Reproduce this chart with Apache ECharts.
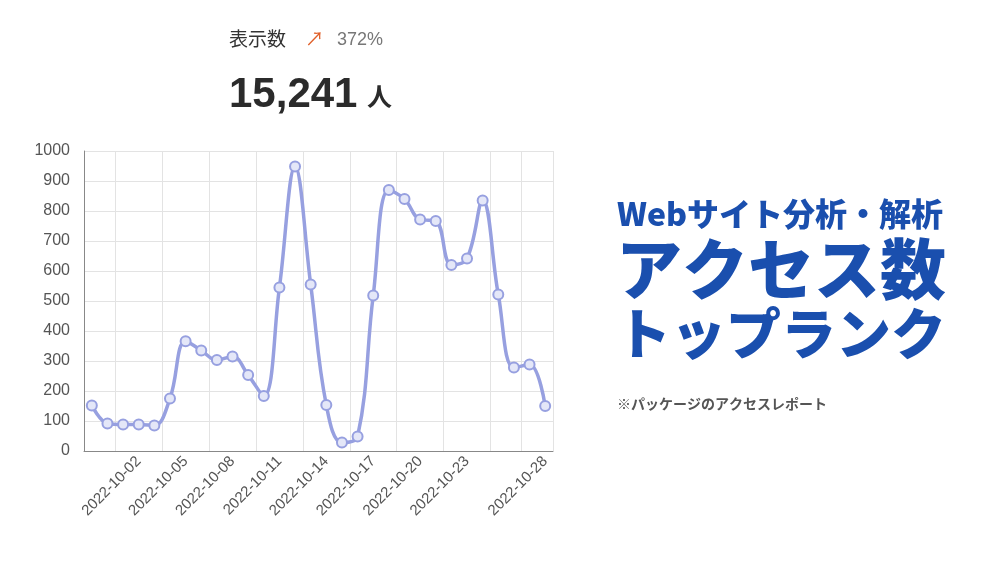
<!DOCTYPE html>
<html><head><meta charset="utf-8">
<script src="https://cdn.jsdelivr.net/npm/echarts@6/dist/echarts.min.js"></script>
<style>html,body{margin:0;background:#fff}#c{width:1000px;height:571px}</style>
</head><body><div id="c"></div>
<script>
const categories = ["2022-09-29","2022-09-30","2022-10-01","2022-10-02","2022-10-03","2022-10-04","2022-10-05","2022-10-06","2022-10-07","2022-10-08","2022-10-09","2022-10-10","2022-10-11","2022-10-12","2022-10-13","2022-10-14","2022-10-15","2022-10-16","2022-10-17","2022-10-18","2022-10-19","2022-10-20","2022-10-21","2022-10-22","2022-10-23","2022-10-24","2022-10-25","2022-10-26","2022-10-27","2022-10-28"];
const views = [152,92,88,88,85,175,366,335,303,315,253,183,545,948,555,153,28,48,518,870,840,772,767,620,642,835,522,278,288,150];
const shownLabels = [3,6,9,12,15,18,21,24,29];
const chart = echarts.init(document.getElementById('c'));
const ff = '"Noto Sans CJK JP", "Noto Sans", sans-serif';
chart.setOption({
  animation:false,
  grid:{left:84,top:151,width:469,height:300},
  xAxis:{type:'category',data:categories,boundaryGap:true,
    axisLine:{lineStyle:{color:'#888'}},axisTick:{show:false},
    splitLine:{show:true,interval:(i)=>i%3===2 && i<27 || i===28,lineStyle:{color:'#e3e3e3'}},
    axisLabel:{rotate:45,color:'#555',fontSize:15,fontFamily:'Liberation Sans',margin:8,
      interval:(i)=>shownLabels.includes(i)}},
  yAxis:{type:'value',min:0,max:1000,interval:100,
    axisLine:{show:true,lineStyle:{color:'#888'}},
    splitLine:{lineStyle:{color:'#e3e3e3'}},
    axisLabel:{color:'#555',fontSize:16,fontFamily:'Liberation Sans',margin:14,formatter:(v)=>String(v)}},
  series:[{type:'line',data:views,smooth:0.4,symbol:'circle',symbolSize:10,
    lineStyle:{color:'#97a0e0',width:3.5},
    itemStyle:{color:'#e4e7f8',borderColor:'#97a0e0',borderWidth:2}}],
  graphic:[
    {type:'text',left:229,top:29,style:{text:'表示数',fontSize:19,fontFamily:ff,fill:'#333'}},
    {type:'text',left:305,top:29,style:{text:'↗',fontSize:19,fontFamily:ff,fill:'#e0602a'}},
    {type:'text',left:337,top:31,style:{text:'372%',fontSize:18,fontFamily:'Liberation Sans',fill:'#777'}},
    {type:'text',left:229,top:74,style:{text:'15,241',fontSize:42,fontWeight:'bold',fontFamily:'Liberation Sans',fill:'#2b2b2b'}},
    {type:'text',left:367,top:84,style:{text:'人',fontSize:25,fontWeight:'bold',fontFamily:ff,fill:'#2b2b2b'}},
    {type:'text',left:617,top:198,style:{text:'Webサイト分析・解析',fontSize:32,fontWeight:900,fontFamily:ff,fill:'#1a4fae'}},
    {type:'text',left:616,top:236,style:{text:'アクセス数',fontSize:66,fontWeight:900,fontFamily:ff,fill:'#1a4fae'}},
    {type:'text',left:616,top:306,style:{text:'トップランク',fontSize:55,fontWeight:900,fontFamily:ff,fill:'#1a4fae'}},
    {type:'text',left:617,top:397,style:{text:'※パッケージのアクセスレポート',fontSize:14,fontWeight:'bold',fontFamily:ff,fill:'#555'}}
  ]
});
</script></body></html>
